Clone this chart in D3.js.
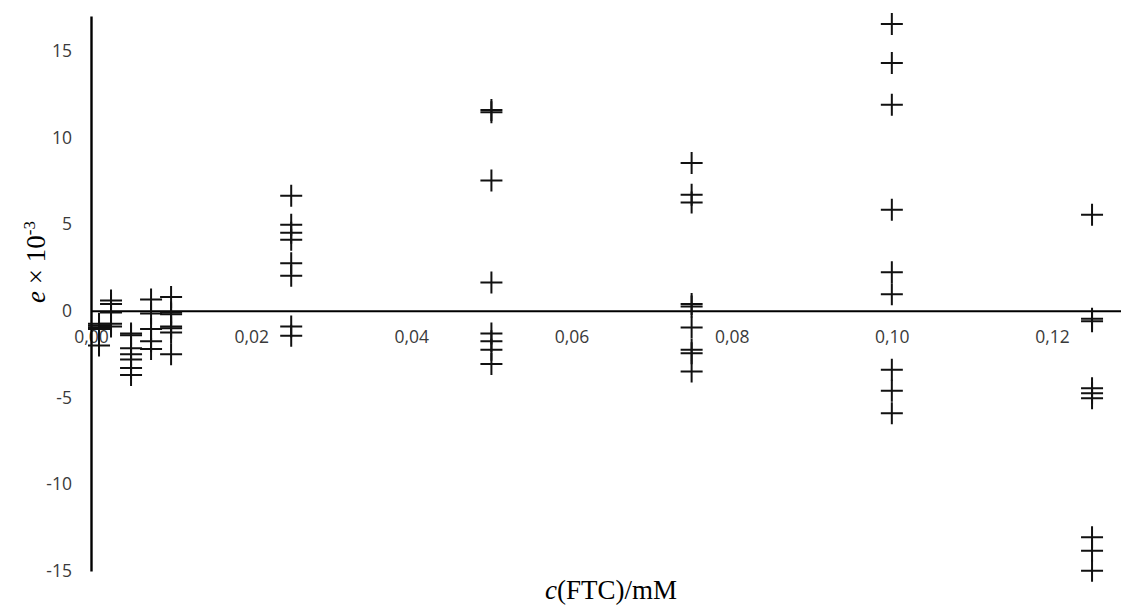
<!DOCTYPE html>
<html>
<head>
<meta charset="utf-8">
<script src="https://cdn.jsdelivr.net/npm/d3@7"></script>
<style>
  html, body { margin: 0; padding: 0; background: #fff; }
  svg { display: block; }
</style>
</head>
<body>
<svg id="chart" width="1121" height="605"></svg>
<script>
// ---- data ----
const concentrations = [0.001, 0.0025, 0.005, 0.0075, 0.01, 0.025, 0.05, 0.075, 0.10, 0.125];
const e_0001  = [-0.75, -0.85, -0.95, -1.05, -2.0];
const e_00025 = [0.6, 0.4, -0.1, -0.75, -0.9];
const e_0005  = [-1.3, -1.4, -2.15, -2.5, -2.8, -3.3, -3.7];
const e_00075 = [0.65, -0.15, -1.05, -1.75, -2.2];
const e_001   = [0.8, -0.1, -0.2, -0.9, -1.0, -1.25, -2.5];
const e_0025  = [6.64, 4.96, 4.5, 4.1, 2.75, 2.02, -0.9, -1.44];
const e_005   = [11.58, 11.45, 7.52, 1.64, -1.3, -1.75, -2.25, -3.06];
const e_0075  = [8.52, 6.69, 6.25, 0.39, 0.25, -0.96, -2.25, -2.44, -3.5];
const e_010   = [16.54, 14.29, 11.89, 5.83, 2.23, 0.96, -3.4, -4.6, -5.9];
const e_0125  = [5.54, -0.45, -0.6, -4.46, -4.75, -5.04, -13.06, -13.83, -14.99];
const errorSets = [e_0001, e_00025, e_0005, e_00075, e_001, e_0025, e_005, e_0075, e_010, e_0125];

const xTickValues = [0, 0.02, 0.04, 0.06, 0.08, 0.10, 0.12];
const xTickLabels = ["0,00", "0,02", "0,04", "0,06", "0,08", "0,10", "0,12"];
const yTickValues = [-15, -10, -5, 0, 5, 10, 15];
const yTickLabels = ["-15", "-10", "-5", "0", "5", "10", "15"];

const points = [];
concentrations.forEach((c, i) => errorSets[i].forEach(v => points.push({ c: c, e: v })));

// ---- scales ----
const svg = d3.select("#chart");
const xLeft = 91, x012 = 1052, W = 1121;
const xMax = 0.12 * (W - xLeft) / (x012 - xLeft);
const x = d3.scaleLinear().domain([0, xMax]).range([xLeft, W]);
const y = d3.scaleLinear().domain([-15, 17]).range([571, 16]);

const tickFont = "'Open Sans', 'Liberation Sans', sans-serif";
const tickColor = "#3a3a3a";

// ---- x axis (at y = 0) ----
const xAxis = d3.axisBottom(x)
  .tickValues(xTickValues)
  .tickFormat((d, i) => xTickLabels[i])
  .tickSize(0)
  .tickSizeOuter(0)
  .tickPadding(20);
const gx = svg.append("g").attr("transform", `translate(0,${y(0)})`).call(xAxis);
gx.select(".domain").attr("stroke", "#000").attr("stroke-width", 2);
gx.selectAll("text").attr("font-family", tickFont).attr("font-size", 17.5).attr("fill", tickColor);

// ---- y axis ----
const yAxis = d3.axisLeft(y)
  .tickValues(yTickValues)
  .tickFormat((d, i) => yTickLabels[i])
  .tickSize(0)
  .tickSizeOuter(0)
  .tickPadding(19);
const gy = svg.append("g").attr("transform", `translate(${xLeft},0)`).call(yAxis);
gy.select(".domain").attr("stroke", "#000").attr("stroke-width", 2.4);
gy.selectAll("text").attr("font-family", tickFont).attr("font-size", 17.5).attr("fill", tickColor);

// ---- markers (plus signs) ----
svg.append("g")
  .selectAll("path")
  .data(points)
  .join("path")
  .attr("transform", d => `translate(${x(d.c)},${y(d.e)})`)
  .attr("d", "M-11,0H11M0,-11V11")
  .attr("stroke", "#111")
  .attr("stroke-width", 2)
  .attr("fill", "none");

// ---- axis titles ----
const serif = "'Liberation Serif', 'Times New Roman', serif";
const xt = svg.append("text")
  .attr("x", 611).attr("y", 599)
  .attr("text-anchor", "middle")
  .attr("font-family", serif).attr("font-size", 27).attr("fill", "#000");
xt.append("tspan").attr("font-style", "italic").text("c");
xt.append("tspan").text("(FTC)/mM");

const yt = svg.append("text")
  .attr("transform", "translate(45,262) rotate(-90)")
  .attr("text-anchor", "middle")
  .attr("font-family", serif).attr("font-size", 27).attr("fill", "#000");
yt.append("tspan").attr("font-style", "italic").text("e");
yt.append("tspan").text(" × 10");
yt.append("tspan").attr("font-size", 17).attr("dy", -10).text("-3");
</script>
</body>
</html>
